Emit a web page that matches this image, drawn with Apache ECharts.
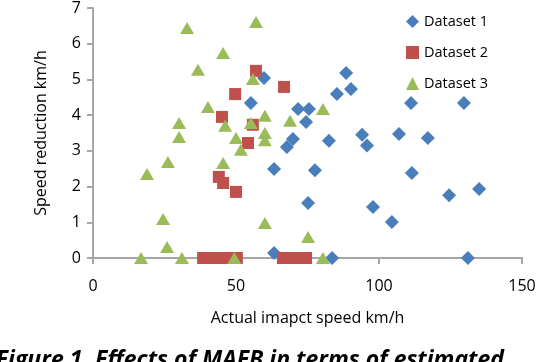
<!DOCTYPE html>
<html>
<head>
<meta charset="utf-8">
<script src="https://cdn.jsdelivr.net/npm/echarts@6/dist/echarts.min.js"></script>
<style>
html,body{margin:0;padding:0;background:#fff;}
#c{width:540px;height:362px;}
</style>
</head>
<body>
<div id="c"></div>
<script>
const seriesNames = ["Dataset 1", "Dataset 2", "Dataset 3"];
const xTicks = [0, 50, 100, 150];
const yTicks = [0, 1, 2, 3, 4, 5, 6, 7];

const d1X = [59.8, 88.5, 90.2, 85.3, 55.2, 71.7, 75.5, 74.5, 69.9, 67.8, 82.5, 94.1, 95.8, 63.3, 77.6, 75.2, 97.9, 63.3, 83.6, 107, 117.1, 111.5, 124.5, 135, 104.5, 131.1, 111.2, 129.7];
const d1Y = [5.04, 5.18, 4.73, 4.59, 4.34, 4.17, 4.17, 3.81, 3.33, 3.11, 3.28, 3.45, 3.15, 2.49, 2.46, 1.54, 1.43, 0.14, 0, 3.47, 3.36, 2.38, 1.76, 1.93, 1.01, 0, 4.34, 4.34];

const d2X = [57, 66.8, 49.7, 45.1, 55.9, 54.2, 44, 45.5, 50, 38.5, 41, 43.5, 46, 48.5, 50.3, 66.4, 69.6, 72.4, 74.5];
const d2Y = [5.24, 4.79, 4.59, 3.95, 3.73, 3.22, 2.27, 2.1, 1.85, 0, 0, 0, 0, 0, 0, 0, 0, 0, 0];

const d3X = [32.9, 57, 45.5, 36.7, 55.9, 40.2, 80.4, 60.1, 68.9, 30.1, 55.2, 46.2, 60.1, 30.1, 50, 60.1, 51.7, 26.2, 45.5, 18.9, 24.5, 60.1, 75.2, 25.9, 16.8, 31.1, 49.4, 80.4];
const d3Y = [6.44, 6.61, 5.74, 5.27, 5.01, 4.23, 4.17, 3.98, 3.84, 3.78, 3.78, 3.7, 3.5, 3.39, 3.36, 3.3, 3.03, 2.69, 2.66, 2.35, 1.09, 0.98, 0.59, 0.31, 0, 0, 0, 0];

const xName = "Actual imapct speed km/h";
const yName = "Speed reduction km/h";
const caption = "Figure 1. Effects of MAEB in terms of estimated";

function pairs(xs, ys) { return xs.map((x, i) => [x, ys[i]]); }

const font = "'Open Sans', 'Liberation Sans', sans-serif";
const axisColor = "#a6a6a6";

const chart = echarts.init(document.getElementById('c'), null, {renderer: 'canvas'});
chart.setOption({
  animation: false,
  backgroundColor: '#ffffff',
  grid: {left: 93, right: 18, top: 8, bottom: 104, containLabel: false},
  legend: {
    orient: 'vertical', left: 401, top: 9, itemGap: 16, itemWidth: 13, itemHeight: 13,
    textStyle: {fontFamily: font, fontSize: 14.5, color: '#000'},
    data: seriesNames
  },
  xAxis: {
    type: 'value', min: xTicks[0], max: xTicks[xTicks.length - 1], interval: 50,
    name: xName, nameLocation: 'middle', nameGap: 52,
    nameTextStyle: {fontFamily: font, fontSize: 16, color: '#000'},
    axisLine: {show: true, onZero: false, lineStyle: {color: axisColor, width: 2}},
    axisTick: {show: true, inside: false, length: 6, lineStyle: {color: axisColor, width: 2}},
    axisLabel: {fontFamily: font, fontSize: 16, color: '#000', margin: 20},
    splitLine: {show: false}
  },
  yAxis: {
    type: 'value', min: yTicks[0], max: yTicks[yTicks.length - 1], interval: 1,
    name: yName, nameLocation: 'middle', nameGap: 44, nameRotate: 90,
    nameTextStyle: {fontFamily: font, fontSize: 16, color: '#000'},
    axisLine: {show: true, lineStyle: {color: axisColor, width: 2}},
    axisTick: {show: true, inside: false, length: 6, lineStyle: {color: axisColor, width: 2}},
    axisLabel: {fontFamily: font, fontSize: 16, color: '#000', margin: 12},
    splitLine: {show: false}
  },
  series: [
    {name: seriesNames[0], type: 'scatter', symbol: 'diamond', symbolSize: [14, 14],
     itemStyle: {color: '#4A7EBB', opacity: 1}, data: pairs(d1X, d1Y)},
    {name: seriesNames[1], type: 'scatter', symbol: 'rect', symbolSize: [12, 12],
     itemStyle: {color: '#C0504D', opacity: 1}, data: pairs(d2X, d2Y)},
    {name: seriesNames[2], type: 'scatter', symbol: 'triangle', symbolSize: [14, 12],
     itemStyle: {color: '#9BBB59', opacity: 1}, data: pairs(d3X, d3Y)}
  ],
  graphic: [{
    type: 'text', right: 36, top: 349,
    style: {text: caption, fontFamily: font, fontSize: 23, fontWeight: 'bold', fontStyle: 'italic', fill: '#000'}
  }]
});
</script>
</body>
</html>
